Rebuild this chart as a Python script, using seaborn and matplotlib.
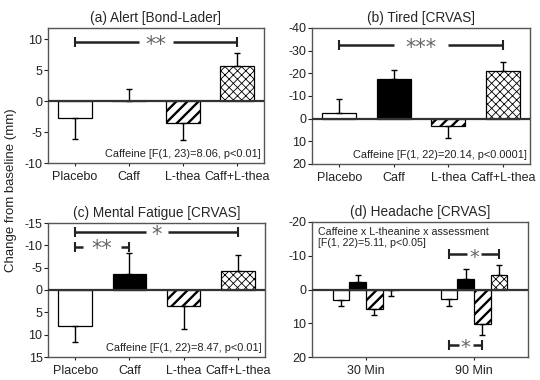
import numpy as np
import pandas as pd
import matplotlib
matplotlib.use("Agg")
import matplotlib.pyplot as plt
import seaborn as sns

sns.set_theme(style="white")
plt.rcParams["font.family"] = ["Liberation Sans", "DejaVu Sans"]
plt.rcParams["axes.unicode_minus"] = False
plt.rcParams["hatch.linewidth"] = 1.6

# ---------------- data ----------------
conditions = ["Placebo", "Caff", "L-thea", "Caff+L-thea"]

alert_mean = [-2.8, 0.0, -3.5, 5.7]
alert_err = [3.3, 1.9, 2.8, 2.1]

tired_mean = [-2.4, -17.4, 3.1, -21.0]
tired_err = [6.3, 4.1, 5.5, 4.0]

fatigue_mean = [8.1, -3.6, 3.6, -4.3]
fatigue_err = [3.5, 4.6, 5.2, 3.5]

times = ["30 Min", "90 Min"]
head_mean_30 = [3.2, -2.3, 5.7, 0.0]
head_err_30 = [1.8, 2.0, 1.9, 1.9]
head_mean_90 = [2.7, -3.1, 10.1, -4.2]
head_err_90 = [2.2, 2.9, 3.3, 3.0]

stats_a = "Caffeine [F(1, 23)=8.06, p<0.01]"
stats_b = "Caffeine [F(1, 22)=20.14, p<0.0001]"
stats_c = "Caffeine [F(1, 22)=8.47, p<0.01]"
stats_d = "Caffeine x L-theanine x assessment\n[F(1, 22)=5.11, p<0.05]"

titles = ["(a) Alert [Bond-Lader]", "(b) Tired [CRVAS]",
          "(c) Mental Fatigue [CRVAS]", "(d) Headache [CRVAS]"]

# ---------------- styles ----------------
face = ["white", "black", "white", "white"]
hatches = [None, None, "///", "xxxx"]
W, H = 540, 380
fig = plt.figure(figsize=(W / 100, H / 100), dpi=100)


def axrect(l, t, r, b):
    return [l / W, 1 - b / H, (r - l) / W, (b - t) / H]


axA = fig.add_axes(axrect(48, 28, 264, 163))
axB = fig.add_axes(axrect(312, 28, 530, 164))
axC = fig.add_axes(axrect(48, 223, 265, 357))
axD = fig.add_axes(axrect(312, 222, 528, 357))


def style_bars(ax, nx):
    for i, p in enumerate(ax.patches):
        k = i // nx
        p.set_facecolor(face[k])
        p.set_edgecolor("black")
        p.set_linewidth(0.9)
        if hatches[k]:
            p.set_hatch(hatches[k])
            try:
                p.set_hatch_linewidth(1.7 if k == 2 else 0.6)
            except Exception:
                pass


def add_err(ax, means, errs):
    xs = [p.get_x() + p.get_width() / 2 for p in ax.patches]
    means = np.asarray(means, float)
    errs = np.asarray(errs, float)
    up = np.where(means >= 0, errs, 0)
    lo = np.where(means >= 0, 0, errs)
    ax.errorbar(xs, means, yerr=[lo, up], fmt="none", ecolor="black",
                elinewidth=1.0, capsize=2.5, capthick=1.0, zorder=1)
    return xs


def sigbar(ax, x0, x1, y, label, gap, fs=15):
    xm = (x0 + x1) / 2
    dx, dy = ax.transData.transform([[xm, y]])[0]
    inv = ax.transData.inverted()
    xl = inv.transform([[dx - gap, dy]])[0][0]
    xr = inv.transform([[dx + gap, dy]])[0][0]
    kw = dict(color="#222222", lw=1.8, zorder=4, solid_capstyle="butt")
    ax.plot([x0, xl], [y, y], **kw)
    ax.plot([xr, x1], [y, y], **kw)
    ax.plot([x0, x1], [y, y], ls="none", marker="|", markersize=7, mew=1.5,
            color="#222222", zorder=4)
    ax.annotate(label, xy=(xm, y), xytext=(0, -0.42 * fs),
                textcoords="offset points", ha="center", va="baseline",
                fontsize=fs, color="#666666", zorder=5,
                family=["DejaVu Sans"])


def frame(ax, ylim, yticks, inverted=False):
    ax.set_ylim(*ylim)
    ax.set_yticks(yticks)
    ax.set_yticklabels([str(t) for t in yticks])
    if inverted:
        ax.invert_yaxis()
    ax.axhline(0, color="#333333", lw=1.6, zorder=3)
    for s in ax.spines.values():
        s.set_color("#555555")
        s.set_linewidth(1.0)
    ax.tick_params(axis="y", left=True, direction="out", length=3, width=0.8,
                   labelsize=9, pad=1, colors="#222222")
    ax.tick_params(axis="x", bottom=True, direction="out", length=2, width=0.8,
                   labelsize=9, pad=3.5, colors="#222222")
    ax.set_xlabel("")
    ax.set_ylabel("")


def cat_panel(ax, means, errs, title, stats, ylim, yticks, inverted):
    df = pd.DataFrame({"cond": conditions, "val": means})
    sns.barplot(data=df, x="cond", y="val", hue="cond", order=conditions,
                hue_order=conditions, width=0.62, legend=False, errorbar=None,
                ax=ax)
    style_bars(ax, 1)
    xs = add_err(ax, means, errs)
    ax.set_xlim(-0.5, 3.5)
    frame(ax, ylim, yticks, inverted)
    ax.set_title(title, fontsize=9.8, pad=4)
    ax.text(0.985, 0.03, stats, transform=ax.transAxes, ha="right",
            va="bottom", fontsize=7.9, color="#222222")
    return xs


xsA = cat_panel(axA, alert_mean, alert_err, titles[0], stats_a,
                (-10, 11.8), [-10, -5, 0, 5, 10], False)
sigbar(axA, xsA[0], xsA[3], 9.5, "**", gap=17)

xsB = cat_panel(axB, tired_mean, tired_err, titles[1], stats_b,
                (-40, 20), [-40, -30, -20, -10, 0, 10, 20], True)
sigbar(axB, xsB[0], xsB[3], -32.4, "***", gap=27)

xsC = cat_panel(axC, fatigue_mean, fatigue_err, titles[2], stats_c,
                (-15, 15), [-15, -10, -5, 0, 5, 10, 15], True)
sigbar(axC, xsC[0], xsC[3], -13.0, "*", gap=11)
sigbar(axC, xsC[0], xsC[1], -9.7, "**", gap=19)

# panel d: grouped by time
rows = []
for c_i, c in enumerate(conditions):
    rows.append({"time": times[0], "cond": c, "val": head_mean_30[c_i]})
    rows.append({"time": times[1], "cond": c, "val": head_mean_90[c_i]})
dfd = pd.DataFrame(rows)
sns.barplot(data=dfd, x="time", y="val", hue="cond", order=times,
            hue_order=conditions, width=0.62, legend=False, errorbar=None,
            ax=axD)
style_bars(axD, 2)
d_means, d_errs = [], []
for c_i in range(4):
    d_means += [head_mean_30[c_i], head_mean_90[c_i]]
    d_errs += [head_err_30[c_i], head_err_90[c_i]]
xsD = add_err(axD, d_means, d_errs)
axD.set_xlim(-0.5, 1.5)
frame(axD, (-20, 20), [-20, -10, 0, 10, 20], True)
axD.set_title(titles[3], fontsize=9.8, pad=4)
axD.text(0.03, 0.965, stats_d, transform=axD.transAxes, ha="left", va="top",
         fontsize=7.7, color="#222222", linespacing=1.2)
# 90 Min bars: placebo index 1, caff 3, l-thea 5, caff+l-thea 7
sigbar(axD, xsD[1], xsD[7], -10.4, "*", gap=7, fs=14)
sigbar(axD, xsD[1], xsD[5], 16.3, "*", gap=7, fs=14)

fig.text(0.02, 0.5, "Change from baseline (mm)", rotation=90, ha="center",
         va="center", fontsize=9.5, color="#222222")

fig.savefig("out.png", dpi=100)
